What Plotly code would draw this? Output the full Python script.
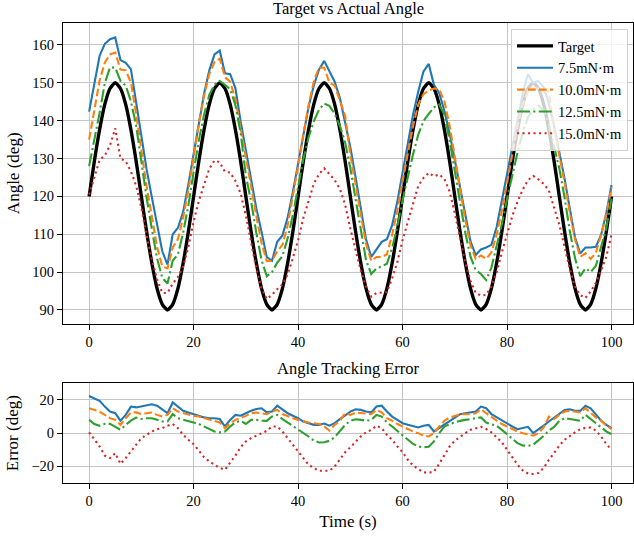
import plotly.graph_objects as go

# ---------------- data ----------------
time_s = list(range(0, 101))

target_deg = [
    120.0, 129.3, 137.6, 144.3, 148.5, 150.0, 148.5, 144.3, 137.6, 129.3,
    120.0, 110.7, 102.4, 95.7, 91.5, 90.0, 91.5, 95.7, 102.4, 110.7,
    120.0, 129.3, 137.6, 144.3, 148.5, 150.0, 148.5, 144.3, 137.6, 129.3,
    120.0, 110.7, 102.4, 95.7, 91.5, 90.0, 91.5, 95.7, 102.4, 110.7,
    120.0, 129.3, 137.6, 144.3, 148.5, 150.0, 148.5, 144.3, 137.6, 129.3,
    120.0, 110.7, 102.4, 95.7, 91.5, 90.0, 91.5, 95.7, 102.4, 110.7,
    120.0, 129.3, 137.6, 144.3, 148.5, 150.0, 148.5, 144.3, 137.6, 129.3,
    120.0, 110.7, 102.4, 95.7, 91.5, 90.0, 91.5, 95.7, 102.4, 110.7,
    120.0, 129.3, 137.6, 144.3, 148.5, 150.0, 148.5, 144.3, 137.6, 129.3,
    120.0, 110.7, 102.4, 95.7, 91.5, 90.0, 91.5, 95.7, 102.4, 110.7,
    120.0,
]

# tracking error (actual - target), deg
err_7_5 = [
    22.4, 21.0, 19.5, 16.0, 13.0, 12.0, 7.5, 11.0, 16.0, 15.5,
    16.0, 16.5, 17.4, 16.5, 14.0, 12.0, 18.5, 16.0, 13.5, 12.5,
    11.5, 10.5, 9.5, 9.0, 9.0, 8.5, 4.0, 8.0, 11.0, 10.5,
    12.0, 13.5, 14.5, 15.0, 12.5, 13.0, 16.5, 14.0, 12.0, 10.5,
    9.0, 7.0, 6.0, 5.0, 5.0, 5.8, 4.5, 6.0, 8.4, 10.5,
    13.0, 14.4, 14.0, 13.0, 12.5, 16.0, 16.5, 13.0, 10.0, 8.0,
    6.0, 5.0, 4.0, 3.4, 4.5, 5.0, 1.0, 3.0, 5.0, 7.4,
    9.5, 11.4, 12.0, 12.4, 13.0, 16.0, 15.0, 11.5, 9.5, 8.0,
    6.0, 4.0, 2.4, 3.0, 3.8, 0.0, 2.0, 4.5, 7.0, 9.4,
    12.0, 14.0, 14.4, 13.5, 13.4, 16.5, 15.0, 11.0, 7.5, 5.0,
    3.0,
]
err_10_0 = [
    15.0, 14.0, 13.0, 11.0, 9.0, 8.0, 5.0, 9.0, 12.5, 12.5,
    11.5, 12.0, 12.4, 11.0, 10.0, 11.0, 15.0, 13.0, 12.0, 11.0,
    10.4, 10.0, 9.0, 8.0, 7.0, 6.4, 3.0, 6.0, 8.0, 9.0,
    10.4, 12.0, 12.4, 12.0, 11.4, 13.0, 14.0, 11.5, 10.0, 9.0,
    8.0, 7.0, 6.4, 6.0, 5.5, 4.0, 1.5, 5.0, 7.4, 12.0,
    11.0, 12.4, 12.0, 11.8, 11.5, 14.0, 12.5, 9.0, 7.5, 5.5,
    4.0, 2.5, 1.0, 0.0, -1.5, -2.0, 0.0, 4.0, 7.5, 9.4,
    10.5, 11.4, 11.4, 11.4, 12.0, 14.4, 12.0, 9.5, 7.5, 5.5,
    4.0, 2.5, 1.0, 0.0, -0.6, -1.5, 0.0, 3.5, 10.0, 8.5,
    11.0, 13.0, 13.4, 13.0, 12.5, 15.0, 12.0, 9.4, 7.5, 4.5,
    2.5,
]
err_12_5 = [
    8.0, 5.5, 4.4, 5.6, 5.6, 4.0, 2.0, 5.0, 7.5, 9.4,
    8.5, 9.0, 9.0, 8.0, 7.0, 7.0, 11.5, 9.0, 8.0, 7.0,
    6.4, 5.5, 4.0, 2.5, 1.0, 0.5, 1.0, 4.0, 6.5, 7.4,
    5.5, 8.0, 8.0, 7.5, 7.4, 10.0, 11.0, 8.5, 6.5, 4.4,
    2.5, 0.5, -2.0, -4.5, -5.6, -5.5, -4.6, -2.5, 1.0, 5.0,
    7.4, 8.4, 8.0, 7.5, 8.0, 11.0, 10.0, 6.5, 4.0, 1.5,
    -1.0, -4.0, -6.5, -8.0, -8.6, -8.2, -5.0, 0.0, 4.0, 5.4,
    6.5, 7.4, 8.0, 8.4, 9.0, 9.5, 6.4, 5.5, 4.4, 2.0,
    -0.6, -3.5, -6.0, -7.4, -7.6, -7.0, -4.5, -1.6, 1.5, 3.8,
    7.4, 9.0, 8.5, 8.0, 7.4, 11.0, 8.5, 6.0, 4.0, 1.0,
    -0.6,
]
err_15_0 = [
    0.5, -4.0, -8.0, -13.5, -15.0, -12.0, -18.5, -15.0, -11.0, -6.5,
    -3.0, -1.0, 1.0, 2.4, 3.0, 4.5, 5.5, 3.0, -1.0, -4.0,
    -6.6, -10.5, -14.5, -17.0, -19.0, -21.0, -22.0, -18.0, -13.5, -8.5,
    -5.0, -3.0, -1.5, 0.0, 1.4, 4.0, 4.0, 1.0, -3.0, -7.0,
    -11.5, -15.0, -19.0, -21.0, -22.6, -22.6, -22.6, -20.0, -15.6, -11.5,
    -8.5, -5.0, -2.0, 0.5, 2.0, 4.5, 3.0, -1.0, -4.0, -8.0,
    -11.5, -16.0, -19.5, -21.5, -23.6, -23.8, -23.2, -18.5, -13.0, -8.0,
    -4.5, -2.0, 0.0, 2.0, 3.0, 3.8, 2.5, 0.5, -2.5, -5.5,
    -10.0, -14.5, -19.0, -22.5, -24.2, -24.6, -24.0, -21.0, -16.0, -12.0,
    -7.5, -4.0, -1.6, 0.5, 2.4, 3.2, 3.4, 1.5, -2.0, -6.6,
    -10.0,
]

series_names = ["7.5mN·m", "10.0mN·m", "12.5mN·m", "15.0mN·m"]
series_errors = [err_7_5, err_10_0, err_12_5, err_15_0]
x_ticks = [0, 20, 40, 60, 80, 100]
angle_ticks = [90, 100, 110, 120, 130, 140, 150, 160]
error_ticks = [-20, 0, 20]

# ---------------- styles ----------------
colors = ["#1f77b4", "#ff7f0e", "#2ca02c", "#d62728"]
dashes = ["solid", "7.7px,3.3px", "13px,3.3px,2.1px,3.3px", "2.1px,3.4px"]
FONT = "Liberation Serif"

fig = go.Figure()

fig.add_trace(go.Scatter(
    x=time_s, y=target_deg, name="Target", mode="lines",
    line=dict(color="black", width=3.4, shape="spline", smoothing=0.6),
    xaxis="x", yaxis="y",
))

for name, err, col, dsh in zip(series_names, series_errors, colors, dashes):
    actual = [t + e for t, e in zip(target_deg, err)]
    fig.add_trace(go.Scatter(
        x=time_s, y=actual, name=name, mode="lines",
        line=dict(color=col, width=2.1, dash=dsh),
        xaxis="x", yaxis="y",
    ))

for name, err, col, dsh in zip(series_names, series_errors, colors, dashes):
    fig.add_trace(go.Scatter(
        x=time_s, y=err, name=name, mode="lines", showlegend=False,
        line=dict(color=col, width=2.1, dash=dsh),
        xaxis="x2", yaxis="y2",
    ))

axis_common = dict(
    showline=True, linecolor="black", linewidth=1, mirror=True,
    ticks="outside", ticklen=5, tickwidth=1, tickcolor="black",
    showgrid=True, gridcolor="#c4c4c4", gridwidth=1, zeroline=False,
    tickfont=dict(family=FONT, size=14.5, color="black"),
    automargin=False,
)

top_dom = [0.3465, 1.0]
bot_dom = [0.0, 0.2167]

fig.update_layout(
    width=634, height=537,
    margin=dict(l=63, r=1, t=23, b=54),
    paper_bgcolor="white", plot_bgcolor="white",
    font=dict(family=FONT, size=14.5, color="black"),
    hovermode=False,
    showlegend=True,
    legend=dict(
        x=0.786, y=0.987, xanchor="left", yanchor="top",
        bgcolor="rgba(255,255,255,0.8)", bordercolor="#d0d0d0", borderwidth=1,
        font=dict(family=FONT, size=14.5, color="black"),
        tracegroupgap=0, itemwidth=36,
    ),
    xaxis=dict(domain=[0, 1], range=[-5, 104.1], tickvals=x_ticks, anchor="y", **axis_common),
    yaxis=dict(domain=top_dom, range=[86.4, 165.8], tickvals=angle_ticks, anchor="x",
               title=dict(text="Angle (deg)", font=dict(family=FONT, size=17), standoff=8),
               **axis_common),
    xaxis2=dict(domain=[0, 1], range=[-5, 104.1], tickvals=x_ticks, anchor="y2",
                title=dict(text="Time (s)", font=dict(family=FONT, size=17), standoff=6),
                **axis_common),
    yaxis2=dict(domain=bot_dom, range=[-30, 30], tickvals=error_ticks,
                ticktext=["−20", "0", "20"], anchor="x2",
                title=dict(text="Error (deg)", font=dict(family=FONT, size=17), standoff=8),
                **axis_common),
    annotations=[
        dict(text="Target vs Actual Angle", x=0.5, y=top_dom[1], xref="paper", yref="paper",
             xanchor="center", yanchor="bottom", yshift=3, showarrow=False,
             font=dict(family=FONT, size=16.5, color="black")),
        dict(text="Angle Tracking Error", x=0.5, y=bot_dom[1], xref="paper", yref="paper",
             xanchor="center", yanchor="bottom", yshift=3, showarrow=False,
             font=dict(family=FONT, size=16.5, color="black")),
    ],
)

fig.write_html(
    "out.html",
    config={"displayModeBar": False},
    post_script="document.body.style.margin='0';document.body.style.overflow='hidden';",
)
